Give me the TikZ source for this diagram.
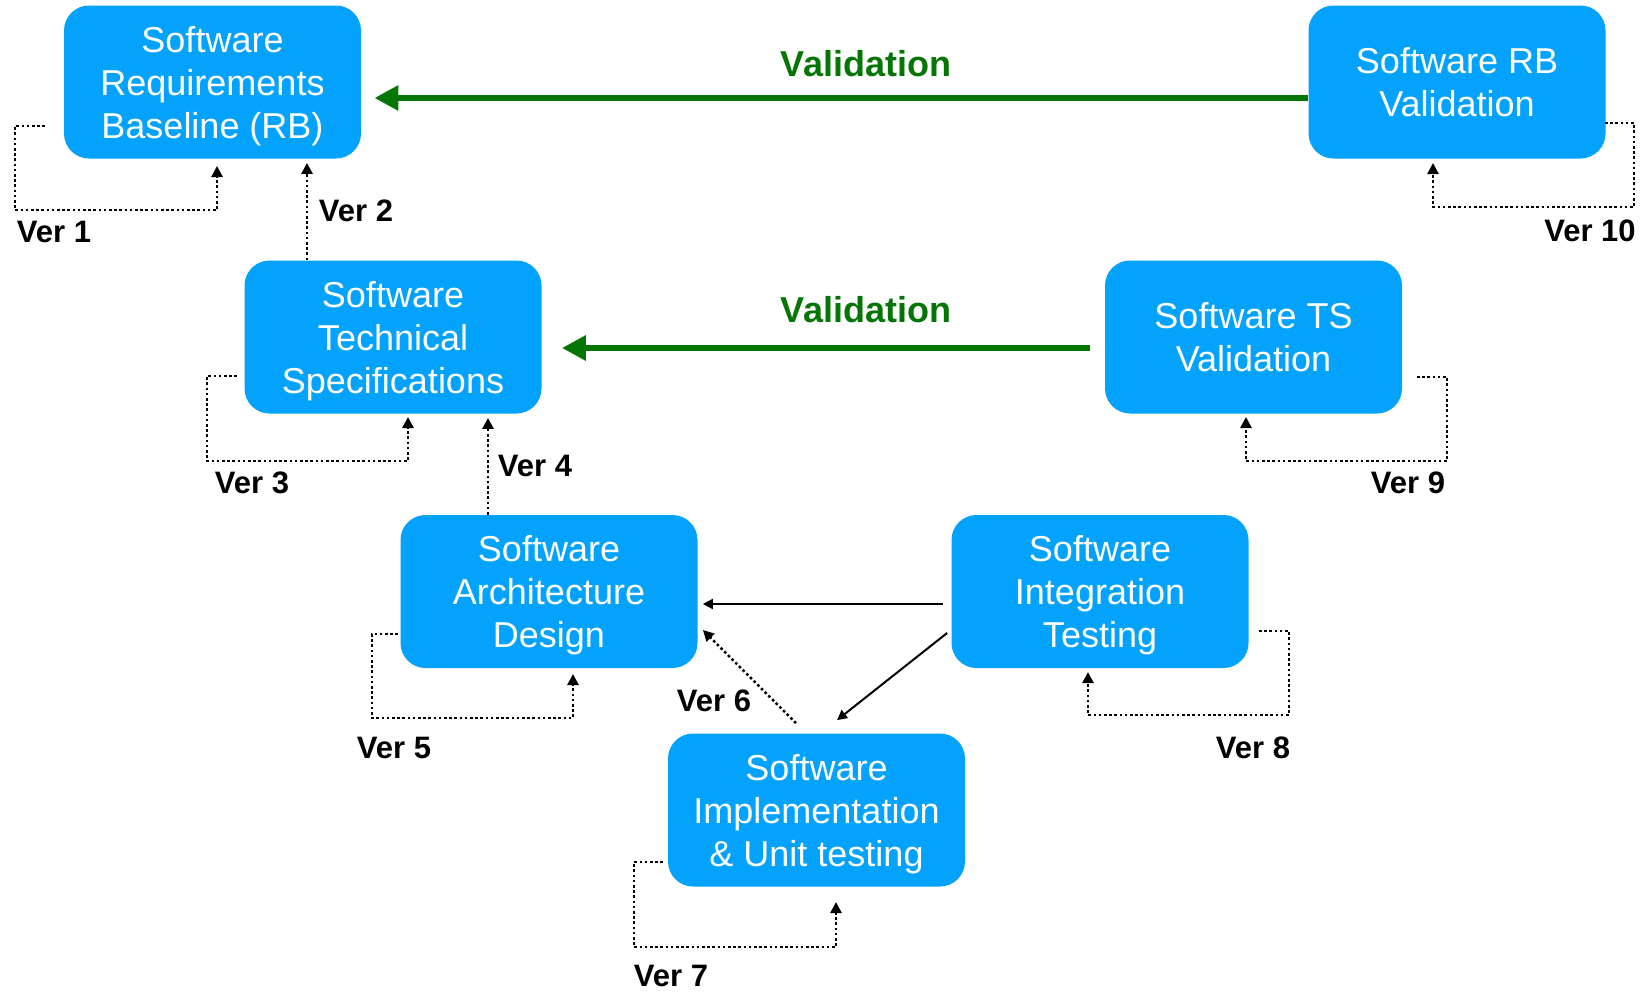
\documentclass[tikz,border=0pt]{standalone}
\usepackage{fontspec}
\setmainfont{Liberation Sans}
\usetikzlibrary{arrows.meta}
\definecolor{boxblue}{RGB}{3,162,252}
\definecolor{valgreen}{RGB}{5,118,5}

\begin{document}
\begin{tikzpicture}[x=0.5pt,y=-0.5pt,
  phase/.style={fill=boxblue, rounded corners=12.5pt, minimum width=148.5pt,
    minimum height=76.5pt, inner sep=0pt, text=white, align=center, text depth=0pt,
    font=\fontsize{18}{21.5}\selectfont},
  verlabel/.style={font=\fontsize{15.5}{18}\selectfont\bfseries, inner sep=0pt},
  vallabel/.style={font=\fontsize{18}{22}\selectfont\bfseries, text=valgreen, inner sep=0pt},
  validation/.style={draw=valgreen, line width=3pt, -{Triangle[length=12pt,width=12pt]}},
  flow/.style={draw=black, line width=1pt, -{Triangle[length=5pt,width=5pt]}},
  verloop/.style={draw=black, line width=1.3pt, dash pattern=on 1.3pt off 1.3pt,
    -{Triangle[length=5.5pt,width=5.5pt]}}
]
\useasboundingbox (0,0) rectangle (1648,991);

% development and verification phases
\node[phase] (rb)   at (212.5,82)  {Software\\Requirements\\Baseline (RB)};
\node[phase] (rbv)  at (1457,82)   {Software RB\\Validation};
\node[phase] (ts)   at (393,337)   {Software\\Technical\\Specifications};
\node[phase] (tsv)  at (1253.5,337) {Software TS\\Validation};
\node[phase] (arch) at (549,591.5) {Software\\Architecture\\Design};
\node[phase] (int)  at (1100,591.5) {Software\\Integration\\Testing};
\node[phase] (impl) at (816.5,810) {Software\\Implementation\\\& Unit testing};

% validation links
\draw[validation] ([yshift=-8pt]rbv.west) -- ([xshift=6.5pt,yshift=-8pt]rb.east);
\node[vallabel] (val1) at (866,64) {Validation};
\draw[validation] ([xshift=-7.5pt,yshift=-5.5pt]tsv.west) -- ([xshift=10pt,yshift=-5.5pt]ts.east);
\node[vallabel] (val2) at (866,310) {Validation};

% integration feedback
\draw[flow] ([xshift=-4pt,yshift=-6.25pt]int.west) -- ([xshift=2.5pt,yshift=-6.25pt]arch.east);
\draw[flow] ([xshift=-2pt,yshift=-20.75pt]int.west) -- ([xshift=10.25pt,yshift=6.5pt]impl.north);

% verification between phases
\draw[verloop] ([xshift=-43pt]ts.north) -- ([xshift=47.25pt,yshift=-2pt]rb.south);
\draw[verloop] ([xshift=-30.5pt]arch.north) -- ([xshift=47.5pt,yshift=-2pt]ts.south);
\draw[verloop] ([xshift=-10.25pt,yshift=5pt]impl.north) -- ([xshift=2.5pt,yshift=-19.25pt]arch.east);

% self-verification loops
\coordinate (v1s) at (45,126);    \coordinate (v1e) at (217,166);
\coordinate (v3s) at (237,376);   \coordinate (v3e) at (408,417);
\coordinate (v5s) at (398,634);   \coordinate (v5e) at (573,674);
\coordinate (v7s) at (663,862);   \coordinate (v7e) at (836,902);
\coordinate (v8s) at (1259,631);  \coordinate (v8e) at (1088,672);
\coordinate (v9s) at (1417,377);  \coordinate (v9e) at (1246,417);
\coordinate (v10s) at (1605,123); \coordinate (v10e) at (1433,163);
\draw[verloop] (v1s) -| (15,210) -| (v1e);
\draw[verloop] (v3s) -| (207,461) -| (v3e);
\draw[verloop] (v5s) -| (372,718) -| (v5e);
\draw[verloop] (v7s) -| (634,947) -| (v7e);
\draw[verloop] (v8s) -| (1289,715) -| (v8e);
\draw[verloop] (v9s) -| (1447,461) -| (v9e);
\draw[verloop] (v10s) -| (1634,207) -| (v10e);

% verification labels
\node[verlabel] (l1)  at (54,232)   {Ver 1};
\node[verlabel] (l2)  at (356,211)  {Ver 2};
\node[verlabel] (l3)  at (252,483)  {Ver 3};
\node[verlabel] (l4)  at (535,466)  {Ver 4};
\node[verlabel] (l5)  at (394,748)  {Ver 5};
\node[verlabel] (l6)  at (714,701)  {Ver 6};
\node[verlabel] (l7)  at (671,976)  {Ver 7};
\node[verlabel] (l8)  at (1253,748) {Ver 8};
\node[verlabel] (l9)  at (1408,483) {Ver 9};
\node[verlabel] (l10) at (1590,231) {Ver 10};
\end{tikzpicture}
\end{document}
